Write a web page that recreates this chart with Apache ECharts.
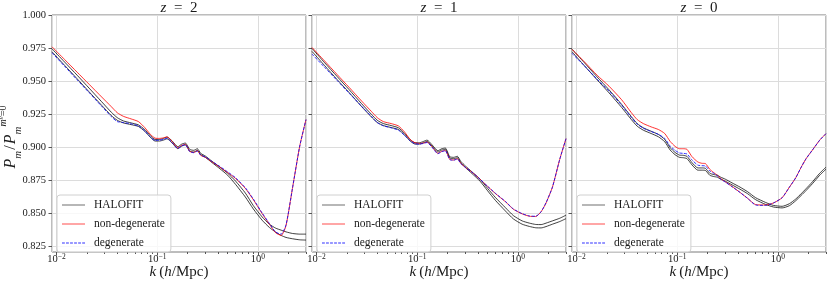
<!DOCTYPE html>
<html>
<head>
<meta charset="utf-8">
<script src="https://cdn.jsdelivr.net/npm/echarts@6/dist/echarts.min.js"></script>
<style>html,body{margin:0;padding:0;background:#fff}#c{width:831px;height:283px}</style>
</head>
<body>
<div id="c"></div>
<script>
// ---- data ----
const K = [0.009, 0.012, 0.016, 0.021, 0.028, 0.035, 0.04, 0.046, 0.055, 0.065, 0.075, 0.085, 0.095, 0.105, 0.115, 0.125, 0.14, 0.16, 0.175, 0.19, 0.21, 0.23, 0.25, 0.27, 0.3, 0.35, 0.42, 0.5, 0.6, 0.75, 0.9, 1.1, 1.3, 1.5, 1.7, 1.9, 2.2, 2.6, 3.0];

const panelTitles = ['2', '1', '0'];
const legendNames = ['HALOFIT', 'non-degenerate', 'degenerate'];
const yTicks = [0.825, 0.85, 0.875, 0.9, 0.925, 0.95, 0.975, 1.0];
const xMinorTicks = [0.02,0.03,0.04,0.05,0.06,0.07,0.08,0.09,0.2,0.3,0.4,0.5,0.6,0.7,0.8,0.9,2,3];

// z = 2
const z2_halofitA = [0.9745,0.9645,0.9545,0.9448,0.9345,0.9265,0.9225,0.920,0.9185,0.917,0.9135,0.909,0.906,0.906,0.9068,0.9078,0.905,0.9005,0.9025,0.9033,0.8985,0.8978,0.899,0.8955,0.8935,0.8895,0.885,0.8805,0.8745,0.8655,0.856,0.8475,0.842,0.839,0.8375,0.8362,0.835,0.8345,0.8345];
const z2_halofitB = [0.9722,0.962,0.9518,0.942,0.9318,0.924,0.9205,0.9185,0.9172,0.9158,0.9122,0.9078,0.9048,0.9048,0.9055,0.9065,0.9035,0.899,0.901,0.902,0.8972,0.8965,0.8978,0.8945,0.8925,0.8885,0.8838,0.879,0.872,0.8625,0.8535,0.845,0.8395,0.836,0.8335,0.832,0.831,0.8302,0.830];
const z2_nondeg = [0.976,0.9664,0.9568,0.9477,0.9381,0.9307,0.9262,0.9235,0.9215,0.9195,0.915,0.910,0.907,0.9068,0.9072,0.908,0.9045,0.8997,0.9015,0.9023,0.897,0.8962,0.8975,0.894,0.8925,0.889,0.885,0.881,0.8765,0.869,0.8605,0.850,0.842,0.8355,0.8335,0.841,0.869,0.901,0.921];
const z2_deg = [0.9715,0.9613,0.951,0.9414,0.9311,0.9232,0.9195,0.9188,0.9178,0.9162,0.9125,0.908,0.9053,0.9055,0.906,0.907,0.9038,0.8992,0.9012,0.902,0.8968,0.896,0.8972,0.8942,0.8928,0.8893,0.8855,0.8815,0.877,0.8695,0.861,0.8505,0.8425,0.836,0.8345,0.8415,0.869,0.901,0.921];

// z = 1
const z1_halofitA = [0.9748,0.964,0.9535,0.9437,0.933,0.925,0.9205,0.918,0.9165,0.9148,0.9105,0.9058,0.9035,0.9035,0.9045,0.9055,0.902,0.8975,0.899,0.8995,0.893,0.8925,0.8933,0.8895,0.886,0.8815,0.876,0.869,0.862,0.8545,0.8485,0.8445,0.8428,0.8418,0.8417,0.8428,0.8445,0.8465,0.8488];
const z1_halofitB = [0.9725,0.9618,0.9512,0.9415,0.9308,0.923,0.9188,0.9165,0.915,0.9135,0.9093,0.9048,0.9025,0.9025,0.9035,0.9045,0.901,0.8965,0.898,0.8985,0.892,0.8915,0.8922,0.8885,0.8848,0.8802,0.8745,0.8672,0.8598,0.852,0.846,0.842,0.8403,0.8393,0.8392,0.8402,0.842,0.844,0.8462];
const z1_nondeg = [0.9755,0.9653,0.955,0.9454,0.935,0.9272,0.9225,0.9195,0.918,0.9162,0.9115,0.906,0.9035,0.903,0.9033,0.904,0.9005,0.8955,0.897,0.8977,0.891,0.8905,0.8915,0.888,0.885,0.8812,0.876,0.8705,0.865,0.859,0.8533,0.8498,0.848,0.8478,0.8515,0.858,0.870,0.891,0.9066];
const z1_deg = [0.9705,0.9605,0.9505,0.941,0.9311,0.9235,0.9188,0.9163,0.9148,0.913,0.909,0.905,0.9028,0.9025,0.903,0.9037,0.9002,0.8952,0.8968,0.8975,0.8908,0.8903,0.8913,0.8878,0.885,0.8812,0.876,0.8706,0.8652,0.8592,0.8535,0.85,0.8482,0.848,0.8515,0.8582,0.870,0.891,0.9066];

// z = 0
const z0_halofitA = [0.9742,0.9638,0.9532,0.9435,0.9325,0.9232,0.918,0.9148,0.9122,0.9098,0.906,0.8998,0.8962,0.8942,0.894,0.8932,0.8885,0.8845,0.8845,0.8842,0.8805,0.8795,0.879,0.8775,0.876,0.8732,0.870,0.8665,0.862,0.8585,0.8562,0.8555,0.8575,0.861,0.865,0.8688,0.874,0.8805,0.8851];
const z0_halofitB = [0.9722,0.9615,0.951,0.9412,0.9302,0.921,0.916,0.913,0.9105,0.908,0.9043,0.898,0.8945,0.8925,0.8922,0.8915,0.8868,0.8828,0.8828,0.8826,0.879,0.878,0.8775,0.876,0.8745,0.8717,0.8684,0.865,0.8605,0.857,0.855,0.8543,0.856,0.8597,0.8637,0.8674,0.8726,0.879,0.8836];
const z0_nondeg = [0.974,0.9645,0.9545,0.9462,0.936,0.9262,0.921,0.918,0.9155,0.9135,0.9105,0.9045,0.9008,0.899,0.899,0.8985,0.893,0.889,0.888,0.8878,0.8835,0.881,0.879,0.8765,0.874,0.8705,0.866,0.8615,0.8568,0.8565,0.858,0.862,0.870,0.877,0.885,0.8914,0.898,0.9055,0.9104];
const z0_deg = [0.971,0.9615,0.9515,0.9425,0.9318,0.9225,0.9175,0.9145,0.912,0.9098,0.9068,0.901,0.8978,0.8958,0.8955,0.895,0.8905,0.8866,0.8862,0.886,0.8822,0.8805,0.8785,0.876,0.8738,0.8703,0.866,0.8615,0.8565,0.8562,0.858,0.862,0.870,0.877,0.885,0.8914,0.898,0.9055,0.9104];

const panels = [
  [z2_halofitA, z2_halofitB, z2_nondeg, z2_deg],
  [z1_halofitA, z1_halofitB, z1_nondeg, z1_deg],
  [z0_halofitA, z0_halofitB, z0_nondeg, z0_deg]
];

// ---- chart ----
const FONT = 'Liberation Serif';
const TXT = '#1a1a1a';
const lefts = [52, 312, 572];
const PW = 254, PT = 15, PH = 237;

const pair = arr => K.map((k, i) => [k, arr[i]]);

// legend icons: solid strip and dashed strip
const solidIcon = 'path://M0,0h23v1h-23z';
let dashPath = 'path://';
for (let x = 0; x < 23; x += 4) dashPath += 'M' + x + ',0h2.8v1h-2.8z';
const legendData = [
  {name: legendNames[0], icon: solidIcon, itemStyle: {color: '#6e6e6e'}},
  {name: legendNames[1], icon: solidIcon, itemStyle: {color: '#ff4d4d'}},
  {name: legendNames[2], icon: dashPath, itemStyle: {color: '#3030ff'}}
];

const grid = [], xAxis = [], yAxis = [], series = [], legend = [], graphic = [];

lefts.forEach((L, i) => {
  grid.push({left: L, top: PT, width: PW, height: PH, show: true, borderColor: '#7a7a7a', borderWidth: 1, backgroundColor: 'transparent'});
  xAxis.push({
    type: 'log', logBase: 10, gridIndex: i, min: 0.009, max: 3, position: 'bottom',
    axisLine: {show: false},
    axisTick: {show: true, length: 3.5, lineStyle: {color: '#555'}},
    axisLabel: {
      show: true, margin: 1, color: TXT, fontFamily: FONT, fontSize: 10,
      showMinLabel: false, showMaxLabel: false,
      formatter: v => {
        const l = Math.log10(v), e = Math.round(l);
        if (Math.abs(l - e) > 1e-6) return '';
        return '{b|10}{s|' + (e < 0 ? '\u2212' + (-e) : e) + '}';
      },
      rich: {
        b: {fontFamily: FONT, fontSize: 10.5, color: TXT, lineHeight: 12, verticalAlign: 'bottom'},
        s: {fontFamily: FONT, fontSize: 7.5, color: TXT, lineHeight: 7, verticalAlign: 'top'}
      }
    },
    splitLine: {show: true, lineStyle: {color: '#dcdcdc', width: 1}}
  });
  yAxis.push({
    type: 'value', gridIndex: i, min: 0.821, max: 1.0,
    axisLine: {show: false},
    axisTick: {show: true, length: 3.5, customValues: yTicks, lineStyle: {color: '#555'}},
    axisLabel: {show: i === 0, customValues: yTicks, margin: 6, color: TXT, fontFamily: FONT, fontSize: 10.5,
      formatter: v => v.toFixed(3)},
    splitLine: {show: true, lineStyle: {color: '#dcdcdc', width: 1}}
  });
  const d = panels[i];
  series.push(
    {name: legendNames[0], type: 'line', xAxisIndex: i, yAxisIndex: i, data: pair(d[0]), symbol: 'none', smooth: 0.2,
     lineStyle: {color: '#000', width: 1, opacity: 0.75}, itemStyle: {color: '#6e6e6e'}, z: 2},
    {name: legendNames[0], type: 'line', xAxisIndex: i + 3, yAxisIndex: i, data: pair(d[1]), symbol: 'none', smooth: 0.2,
     lineStyle: {color: '#000', width: 1, opacity: 0.75}, itemStyle: {color: '#6e6e6e'}, z: 2},
    {name: legendNames[1], type: 'line', xAxisIndex: i, yAxisIndex: i, data: pair(d[2]), symbol: 'none', smooth: 0.2,
     lineStyle: {color: '#ff0000', width: 1, opacity: 0.8}, itemStyle: {color: '#ff4d4d'}, z: 3},
    {name: legendNames[2], type: 'line', xAxisIndex: i, yAxisIndex: i, data: pair(d[3]), symbol: 'none', smooth: 0.2,
     lineStyle: {color: '#0000ff', width: 1, type: [3, 1.5], opacity: 0.8}, itemStyle: {color: '#3030ff'}, z: 4}
  );
  legend.push({
    left: L + 5, top: 195, orient: 'vertical', data: legendData,
    itemWidth: 23, itemHeight: 1.6, itemGap: 7,
    padding: [4, 6, 3, 5],
    backgroundColor: 'rgba(255,255,255,0.8)', borderColor: '#d0d0d0', borderWidth: 1, borderRadius: 3,
    textStyle: {fontFamily: FONT, fontSize: 11.5, color: TXT, lineHeight: 10.5, padding: [0, 0, 0, 4]},
    selectedMode: false
  });
  graphic.push({
    type: 'text', x: L + PW / 2, y: 8,
    style: {text: '{i|z}\u2002=\u2002' + panelTitles[i], align: 'center', verticalAlign: 'middle',
      fontFamily: FONT, fontSize: 15, fill: TXT,
      rich: {i: {fontFamily: FONT, fontStyle: 'italic', fontSize: 15, fill: TXT}}}
  });
  graphic.push({
    type: 'text', x: L + PW / 2, y: 272,
    style: {text: '{i|k}\u2009({i|h}/Mpc)', align: 'center', verticalAlign: 'middle',
      fontFamily: FONT, fontSize: 15, fill: TXT,
      rich: {i: {fontFamily: FONT, fontStyle: 'italic', fontSize: 15, fill: TXT}}}
  });
});

// minor tick axes (indices 3..5)
lefts.forEach((L, i) => {
  xAxis.push({
    type: 'log', logBase: 10, gridIndex: i, min: 0.009, max: 3, position: 'bottom',
    axisLine: {show: false}, axisLabel: {show: false}, splitLine: {show: false},
    axisTick: {show: true, length: 2, customValues: xMinorTicks, lineStyle: {color: '#555'}}
  });
});

graphic.push({
  type: 'text', x: 11, y: 137, rotation: Math.PI / 2,
  style: {
    text: '{P|P}{sub|m}{n|/}{P|P}{sub|m}{sup|m}{sup2|\u03bd}{supn|=0}',
    align: 'center', verticalAlign: 'middle', fontFamily: FONT, fontSize: 15, fill: TXT,
    rich: {
      P: {fontFamily: FONT, fontStyle: 'italic', fontSize: 16, fill: TXT, lineHeight: 26, verticalAlign: 'middle'},
      n: {fontFamily: FONT, fontSize: 16, fill: TXT, lineHeight: 26, verticalAlign: 'middle', padding: [0, 1, 0, 1]},
      sub: {fontFamily: FONT, fontStyle: 'italic', fontSize: 11, fill: TXT, lineHeight: 12, verticalAlign: 'bottom'},
      sup: {fontFamily: FONT, fontStyle: 'italic', fontSize: 10, fill: TXT, lineHeight: 12, verticalAlign: 'top'},
      sup2: {fontFamily: FONT, fontStyle: 'italic', fontSize: 7, fill: TXT, lineHeight: 17, verticalAlign: 'top'},
      supn: {fontFamily: FONT, fontSize: 10, fill: TXT, lineHeight: 12, verticalAlign: 'top'}
    }
  }
});

const chart = echarts.init(document.getElementById('c'), null, {renderer: 'canvas'});
chart.setOption({
  animation: false,
  backgroundColor: '#fff',
  grid, xAxis, yAxis, series, legend, graphic
});
</script>
</body>
</html>
